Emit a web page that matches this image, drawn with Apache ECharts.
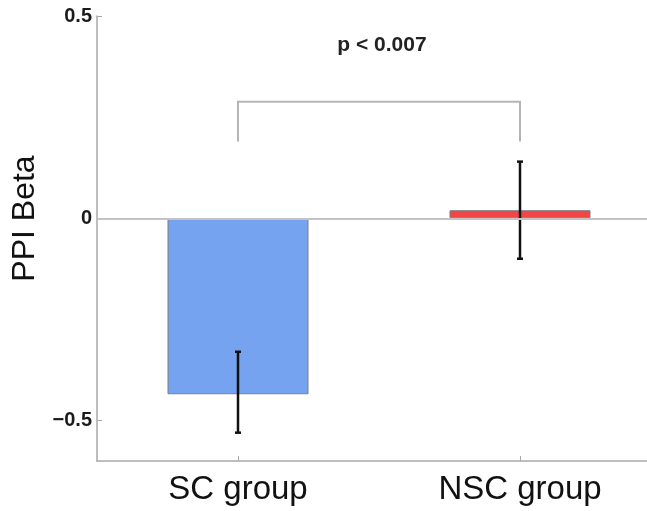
<!DOCTYPE html>
<html>
<head>
<meta charset="utf-8">
<script src="https://cdn.jsdelivr.net/npm/echarts@6/dist/echarts.min.js"></script>
<style>html,body{margin:0;padding:0;background:#fff}#c{width:647px;height:511px}</style>
</head>
<body>
<div id="c"></div>
<script>
const categories = ['SC group', 'NSC group'];
const means = [-0.435, 0.02];
const errLow = [-0.53, -0.10];
const errHigh = [-0.33, 0.14];
const barColors = ['#75a3ef', '#f24545'];
const yTickValues = [-0.5, 0, 0.5];
const yTickLabels = ['\u22120.5', '0', '0.5'];
const bracket = { from: 0, to: 1, top: 0.288, legEnd: 0.19, textY: 0.428, text: 'p < 0.007' };

const FONT = 'Liberation Sans, Arial, Helvetica, sans-serif';
const chart = echarts.init(document.getElementById('c'));

chart.setOption({
  animation: false,
  backgroundColor: '#fff',
  grid: { left: 97, right: -14, top: 16, bottom: 50, containLabel: false, outerBoundsMode: 'none' },
  xAxis: {
    type: 'category',
    data: categories,
    axisLine: { onZero: false, lineStyle: { color: '#a9a9a9', width: 1.5 } },
    axisTick: { show: true, alignWithLabel: true, inside: true, length: 5, lineStyle: { color: '#a9a9a9' } },
    axisLabel: { fontSize: 33, color: '#111', fontFamily: FONT, margin: 12 },
    splitLine: { show: false }
  },
  yAxis: {
    type: 'value',
    min: -0.6,
    max: 0.5,
    name: 'PPI Beta',
    nameLocation: 'middle',
    nameRotate: 90,
    nameGap: 51,
    nameTextStyle: { fontSize: 32, color: '#111', fontFamily: FONT, padding: [0, 0, 0, 40] },
    axisLine: { show: true, lineStyle: { color: '#a9a9a9', width: 1.5 } },
    axisTick: { show: true, inside: true, length: 5, customValues: yTickValues, lineStyle: { color: '#a9a9a9' } },
    axisLabel: {
      customValues: yTickValues,
      fontSize: 20, fontWeight: 'bold', color: '#1a1a1a', fontFamily: FONT, margin: 5,
      formatter: function (v) { const i = yTickValues.indexOf(v); return i >= 0 ? yTickLabels[i] : ''; }
    },
    splitLine: { show: false }
  },
  series: [
    {
      type: 'line',
      data: [],
      z: 1,
      silent: true,
      markLine: {
        silent: true,
        symbol: 'none',
        label: { show: false },
        lineStyle: { color: '#c4c4c4', width: 2, type: 'solid' },
        data: [{ yAxis: 0 }]
      }
    },
    {
      type: 'bar',
      z: 2,
      barWidth: '50%',
      data: means.map((v, i) => ({ value: v, itemStyle: { color: barColors[i], borderColor: '#7f7f7f', borderWidth: 1 } }))
    },
    {
      type: 'custom',
      z: 3,
      data: categories.map((c, i) => [i, errLow[i], errHigh[i]]),
      renderItem: function (params, api) {
        const lo = api.coord([api.value(0), api.value(1)]);
        const hi = api.coord([api.value(0), api.value(2)]);
        const w = 3;
        const st = { stroke: '#111', lineWidth: 2.5 };
        return { type: 'group', children: [
          { type: 'line', shape: { x1: lo[0], y1: lo[1], x2: hi[0], y2: hi[1] }, style: st },
          { type: 'line', shape: { x1: lo[0] - w, y1: lo[1], x2: lo[0] + w, y2: lo[1] }, style: st },
          { type: 'line', shape: { x1: hi[0] - w, y1: hi[1], x2: hi[0] + w, y2: hi[1] }, style: st }
        ]};
      }
    },
    {
      type: 'custom',
      z: 4,
      data: [[bracket.from, bracket.to, bracket.top, bracket.legEnd, bracket.textY]],
      renderItem: function (params, api) {
        const a0 = api.coord([api.value(0), api.value(3)]);
        const a1 = api.coord([api.value(0), api.value(2)]);
        const b1 = api.coord([api.value(1), api.value(2)]);
        const b0 = api.coord([api.value(1), api.value(3)]);
        const ty = api.coord([api.value(0), api.value(4)])[1];
        const tx = (a1[0] + b1[0]) / 2;
        return { type: 'group', children: [
          { type: 'polyline', shape: { points: [a0, a1, b1, b0] }, style: { stroke: '#b5b5b5', lineWidth: 2, fill: null } },
          { type: 'text', x: tx + 3, y: ty, style: { text: bracket.text, fontSize: 21, fontWeight: 'bold', fill: '#222', fontFamily: FONT, align: 'center', verticalAlign: 'middle' } }
        ]};
      }
    }
  ]
});
</script>
</body>
</html>
